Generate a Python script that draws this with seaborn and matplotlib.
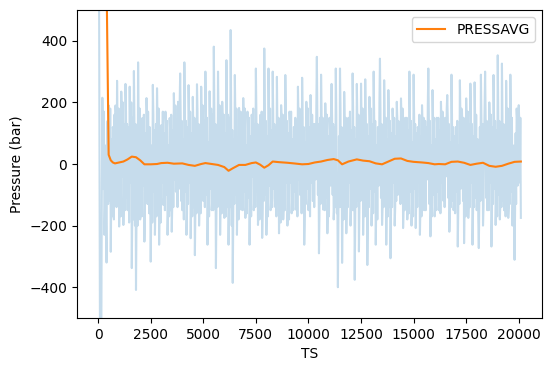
import numpy as np
import pandas as pd
import matplotlib
matplotlib.use("Agg")
import matplotlib.pyplot as plt
import seaborn as sns

# Raw pressure samples (every 25 TS)
ts = list(range(0, 20101, 25))
press = [
    1500, 900, 400, -300, -900, -750, -600, -100, 215, 120, -80, 170, -230, -140, 60, -190, -320, 110, 140, -130, 190, 150, -120, 180, -285, -90, 80, -170, 120, 100, -180, 160, -60, 190, 150, -140, 270, 120, -90, 180,
    -203, -110, 110, -170, 235, 150, -40, 200, -198, -100, 130, -150, 260, 170, -110, 130, -150, 120, 90, -190, 251, 110, -60, 200, -338, -140, 150, -180, 302, 150, -200, 130, -409, -170, 60, -200, 330, 150, -120, 180,
    -180, 130, 90, -170, 149, 110, -70, 160, -252, -140, 100, -120, 214, 140, -130, 170, 30, -160, 120, -110, -317, -150, 60, -190, 257, 160, -90, 110, -230, -130, 130, -170, 246, 140, -50, 180, -262, -120, 80, -190,
    126, 110, -60, 170, -133, -110, 100, -150, 170, 130, -100, 140, -230, -160, 60, -170, 149, 110, -150, 160, -220, -130, 110, -140, 230, 150, -50, 190, -90, 90, 140, -140, 202, 140, -80, 190, 294, 160, -120, 140,
    -150, -130, 80, -180, 330, 180, -90, 140, -230, -160, 120, -130, 256, 150, -60, 170, -241, -120, 100, -170, 218, 130, -140, 150, -296, -140, 130, -160, 259, 170, -70, 130, -200, -110, 110, -160, 251, 140, -90, 190,
    -120, 110, 140, -140, 300, 160, -100, 150, -262, -130, 70, -170, 236, 110, -80, 180, -150, -120, 160, -150, 381, 180, -120, 130, -338, -160, 90, -140, 300, 150, -60, 190, -230, -110, 120, -160, 202, 130, -100, 160,
    -175, -120, 100, -170, 337, 150, -140, 160, -262, -140, 150, -140, 435, 180, -200, 110, -386, -180, 80, -130, 289, 150, -100, 180, -230, -100, 70, -180, 182, 120, -50, 170, -148, -120, 120, -150, 214, 140, -90, 180,
    -175, -140, 60, -160, 170, 120, -110, 150, -262, -130, 90, -170, 160, 140, -40, 180, -150, -110, 130, -140, 310, 160, -90, 130, -198, -150, 60, -180, 159, 110, -120, 170, -240, -140, 140, -120, 375, 190, -100, 140,
    -230, -130, 90, -170, 310, 150, -70, 180, -150, -120, 110, -140, 300, 160, -80, 130, -110, -140, 120, -170, 283, 120, -130, 150, -225, -110, 50, -190, 191, 150, -100, 160, -180, -130, 130, -150, 289, 170, -60, 140,
    -200, -140, 100, -180, 170, 130, -60, 170, -160, -110, 80, -150, 120, 120, -90, 150, -148, -130, 140, -170, 251, 150, -50, 180, -100, 100, 110, -160, 280, 150, -150, 120, -262, -170, 70, -130, 202, 140, -80, 180,
    -150, -110, 120, -170, 224, 140, -60, 160, -120, -120, 130, -140, 100, 130, -50, 190, 348, 150, -100, 130, -290, -160, 150, -130, 290, 170, -80, 150, -148, -140, 100, -150, 197, 120, -110, 160, -225, -130, 90, -170,
    150, 110, -70, 180, 260, 150, -100, 130, -180, -140, 120, -140, 310, 160, -160, -130, -400, -180, 90, -140, 310, 180, -140, 120, -321, -160, 60, -180, 234, 130, -90, 150, -225, -120, 120, -140, 150, 110, -60, 170,
    -200, -130, 110, -150, 294, 170, -150, 120, -376, -180, 80, -140, 260, 150, -120, 160, -284, -140, 140, -120, 261, 150, -60, 180, -230, -110, 100, -170, 275, 140, -170, 130, -328, -180, 90, -140, 218, 150, -80, 180,
    -200, -120, 130, -160, 300, 150, -90, 140, -262, -130, 60, -180, 120, 120, -70, 200, 342, 170, -110, 130, -198, -140, 120, -140, 272, 150, -100, 150, -262, -120, 80, -170, 240, 130, -140, 140, -306, -160, 100, -140,
    180, 130, -60, 150, -200, -140, 90, -120, 202, 150, -100, 140, -90, 110, 130, -130, 213, 150, -50, 180, -208, -140, 80, -150, 150, 120, -120, 150, -180, -120, 110, -160, 300, 170, -90, 140, -200, -130, 70, -170,
    290, 150, -80, 130, -208, -120, 100, -140, 120, 110, -60, 160, -230, -140, 90, -170, 191, 130, -110, 150, -150, -110, 140, -150, 100, 120, -50, 190, 310, 160, -130, 140, -235, -140, 60, -170, 240, 140, -100, 150,
    -170, -130, 80, -150, 150, 120, -90, 150, -150, -110, 110, -160, 202, 140, -60, 170, -100, -120, 120, -140, 150, 130, -40, 180, 224, 150, -110, 130, -220, -150, 70, -140, 290, 160, -120, 120, -150, -110, 90, -160,
    120, 120, -90, 140, -268, -140, 60, -130, 272, 160, -80, 180, 170, 110, -120, 150, -257, -140, 100, -170, 213, 130, -70, 170, -175, -120, 130, -140, 261, 150, -60, 130, -262, -160, 90, -140, 265, 150, -110, 160,
    -150, -110, 80, -180, -273, -130, 120, -120, 290, 150, -90, 130, -200, -140, 60, 180, 300, 150, -110, 140, -150, -130, 100, -150, 200, 120, -60, 160, -268, -170, 120, -130, 289, 150, -80, 140, -198, -120, 110, -170,
    353, 170, -100, 140, -180, -130, 90, -140, 326, 150, -120, 130, -150, -120, 70, -170, 270, 140, -60, 180, -175, -140, 130, -130, 290, 160, -90, 150, -200, -110, 60, -190, -311, -150, 100, -130, 180, 140, -70, 170,
    191, 130, -60, 150, -175,
]

# Running average (PRESSAVG)
avg_ts = [0, 200, 400, 500, 600, 700, 800, 1000, 1200, 1400, 1600, 1800, 2000,
          2200, 2500, 2800, 3000, 3300, 3600, 4000, 4300, 4600, 4900, 5100,
          5400, 5700, 6000, 6200, 6400, 6700, 7000, 7300, 7500, 7700, 7900,
          8100, 8300, 8600, 9000, 9300, 9700, 10000, 10300, 10600, 10900,
          11200, 11400, 11600, 11900, 12300, 12600, 12900, 13200, 13500,
          13800, 14100, 14400, 14700, 15000, 15400, 15700, 16000, 16200,
          16500, 16800, 17100, 17400, 17700, 18000, 18300, 18600, 18900,
          19200, 19500, 19800, 20100]
avg_vals = [2500, 1200, 600, 30, 12, 5, 2, 5, 8, 15, 24, 22, 12,
            -1, -1, 0, 3, 4, 1, 2, -3, -6, 0, 3,
            0, -3, -10, -22, -14, -3, -3, 3, 5, -2, -12,
            -4, 8, 6, 4, 2, -1, 0, 5, 8, 13,
            16, 12, -1, 8, 15, 11, 9, 2, -1,
            8, 17, 18, 10, 7, 5, 3, -1, 0,
            -1, 7, 8, 4, -3, 1, 4, -6, -9,
            -6, 1, 7, 8]

raw = pd.DataFrame({"TS": ts, "PRESS": press})
avg = pd.DataFrame({"TS": avg_ts, "PRESSAVG": avg_vals})

fig = plt.figure(figsize=(5.52, 3.71), dpi=100)
ax = fig.add_axes([77 / 552, (371 - 318) / 371, 465 / 552, 308 / 371])

sns.lineplot(data=raw, x="TS", y="PRESS", ax=ax, color="C0", alpha=0.25,
             linewidth=1.5)
sns.lineplot(data=avg, x="TS", y="PRESSAVG", ax=ax, color="C1",
             linewidth=1.5, label="PRESSAVG")

ax.set_xlim(-1005, 21105)
ax.set_ylim(-500, 500)
ax.set_xlabel("TS")
ax.set_ylabel("Pressure (bar)")
ax.legend(loc="upper right")

fig.savefig("out.png", dpi=100)
